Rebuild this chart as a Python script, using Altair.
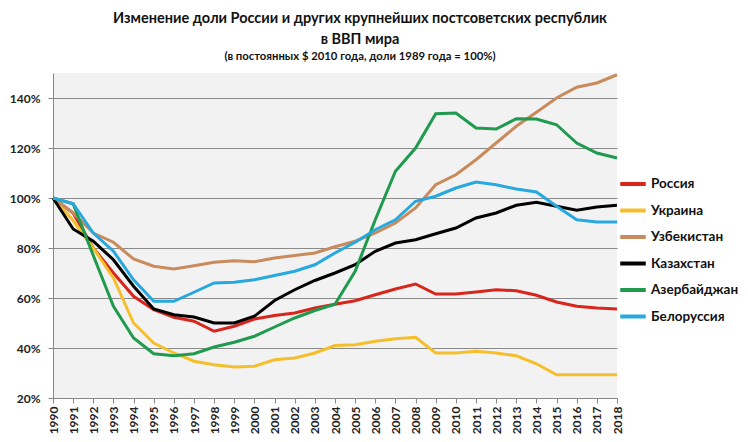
import altair as alt
import pandas as pd

years = list(range(1990, 2019))
countries = ["Россия", "Украина", "Узбекистан", "Казахстан", "Азербайджан", "Белоруссия"]
colors = ["#d9261c", "#f4bf2a", "#c98a5c", "#000000", "#1f9a4e", "#27a8de"]

russia = [100, 94, 80, 70, 60.7, 55.3, 52.3, 50.7, 46.7, 48.7, 51.6, 53, 54, 56, 57.5,
          58.9, 61.3, 63.6, 65.6, 61.6, 61.6, 62.4, 63.3, 62.9, 61.1, 58.4, 56.7, 56, 55.6]
ukraine = [100, 91, 80, 68, 50, 42, 38, 34.7, 33.3, 32.4, 32.7, 35.3, 36, 38, 41,
           41.3, 42.7, 43.7, 44.3, 38, 38, 38.7, 38, 36.9, 33.7, 29.3, 29.3, 29.3, 29.3]
uzbekistan = [100, 94, 86, 82.3, 75.6, 72.7, 71.6, 72.9, 74.3, 74.9, 74.5, 76, 77, 78, 80.5,
              82.7, 86, 90, 96, 105.3, 109.3, 115.3, 122, 128.7, 134.3, 140, 144.3, 146, 149.3]
kazakhstan = [100, 87.6, 82.7, 75.3, 64.7, 55.6, 53.3, 52.4, 50, 50, 52.7, 59, 63.3, 67, 70,
              73.3, 78.7, 82, 83.3, 85.7, 88, 92, 94, 97.1, 98.3, 96.7, 95.1, 96.4, 97.1]
azerbaijan = [100, 97.7, 77, 56.7, 44, 37.7, 36.9, 37.7, 40.4, 42.3, 44.7, 48.4, 52, 55, 57.5,
              70.7, 91.3, 110.7, 120, 133.7, 134, 128, 127.6, 131.7, 131.6, 129.3, 122, 118, 116]
belarus = [100, 97.7, 86, 78.7, 67.3, 58.7, 58.7, 62.3, 66, 66.3, 67.3, 69, 70.7, 73.3, 78,
           82.3, 87.3, 91.3, 98.7, 100.7, 104, 106.4, 105.3, 103.6, 102.4, 96.7, 91.3, 90.4, 90.4]

y_ticks = [20, 40, 60, 80, 100, 120, 140]
title_lines = ["Изменение доли России и других крупнейших постсоветских республик",
               "в ВВП мира\u2003\u2003\u2003\u2003"]
subtitle = "(в постоянных $ 2010 года, доли 1989 года = 100%)"

series = [russia, ukraine, uzbekistan, kazakhstan, azerbaijan, belarus]
rows = []
for i, (name, vals) in enumerate(zip(countries, series)):
    for yr, v in zip(years, vals):
        rows.append({"year": yr, "value": v, "country": name, "order": i})
df = pd.DataFrame(rows)

FONT = "Lato"

chart = alt.Chart(df).mark_line(strokeWidth=3).encode(
    x=alt.X("year:Q",
            scale=alt.Scale(domain=[1990, 2018], nice=False, zero=False),
            axis=alt.Axis(values=years, format="d", labelAngle=-90, title=None,
                          grid=False, tickSize=5, labelPadding=3,
                          labelFontSize=12, labelFontWeight="bold", labelColor="#222",
                          domainColor="#888", tickColor="#888", labelFont=FONT)),
    y=alt.Y("value:Q",
            scale=alt.Scale(domain=[20, 150], nice=False, zero=False),
            axis=alt.Axis(values=y_ticks, labelExpr="datum.value + '%'", title=None,
                          grid=True, gridColor="#8a8a8a", gridWidth=1, tickSize=5,
                          labelPadding=8, labelFontSize=12, labelFontWeight="bold",
                          labelColor="#222", domainColor="#888", tickColor="#888",
                          labelFont=FONT)),
    color=alt.Color("country:N",
                    scale=alt.Scale(domain=countries, range=colors),
                    sort=countries,
                    legend=alt.Legend(title=None, orient="none", legendX=565, legendY=96,
                                      direction="vertical", symbolType="stroke",
                                      symbolStrokeWidth=4, symbolSize=650,
                                      labelFontSize=13.5, labelFontWeight="bold",
                                      labelColor="#111", labelFont=FONT, labelOffset=3,
                                      rowPadding=3.5, padding=0)),
    order=alt.Order("order:Q"),
).properties(
    width=564,
    height=325,
    padding={"left": 45, "top": 65, "right": 123, "bottom": 36},
    autosize=alt.AutoSizeParams(type="none"),
    title=alt.TitleParams(text=title_lines, subtitle=subtitle, anchor="middle",
                          dx=25, offset=5, font=FONT, fontSize=14.5, fontWeight="bold",
                          color="#111", lineHeight=21, subtitleFont=FONT,
                          subtitleFontSize=11.3, subtitleFontWeight="bold",
                          subtitleColor="#111", subtitlePadding=4),
).configure_view(fill="#f2f2f2", stroke=None)

chart.save("out.html", embed_options={"renderer": "svg", "actions": False})
